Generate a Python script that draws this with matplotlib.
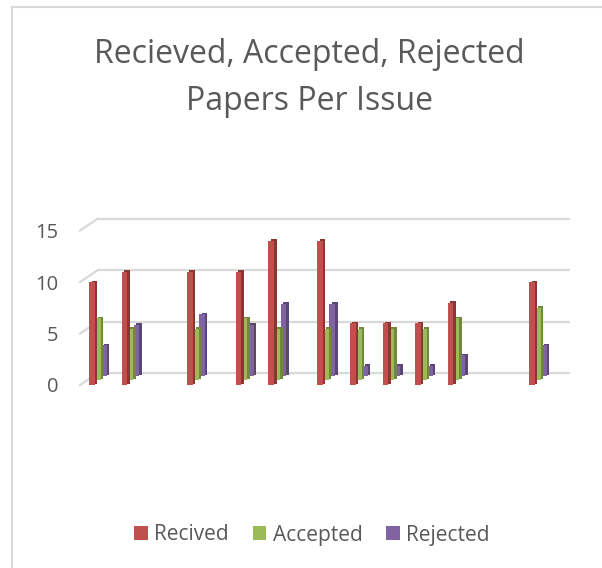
import matplotlib
matplotlib.use("Agg")
import matplotlib.pyplot as plt
from matplotlib import transforms
from matplotlib.patches import Patch

# issue slots on the (date-like) category axis, and counts per issue
issue_slot = [0, 2, 6, 9, 11, 14, 16, 18, 20, 22, 27]
received = [10, 11, 11, 11, 14, 14, 6, 6, 6, 8, 10]
accepted = [6, 5, 5, 6, 5, 5, 5, 5, 5, 6, 7]
rejected = [3, 5, 6, 5, 7, 7, 1, 1, 1, 2, 3]

series_names = ["Recived", "Accepted", "Rejected"]
title_lines = ["Recieved, Accepted, Rejected", "Papers Per Issue"]
y_ticks = [0, 5, 10, 15]

FRONT = ["#C0504D", "#9BBB59", "#8064A2"]
SIDE = ["#8A3734", "#6F8A3C", "#5B4678"]
GRID = "#D9D9D9"
TEXT = "#595959"

plt.rcParams["font.family"] = ["Open Sans", "DejaVu Sans"]

W, H = 602, 568
fig = plt.figure(figsize=(W / 100, H / 100), dpi=100)


def px_box(left, top, right, bottom):
    return [left / W, 1 - bottom / H, (right - left) / W, (bottom - top) / H]


# axis geometry: 16.3 px per slot, 10.3 px per unit, y=0 at 385 px
unit_x, unit_y = 16.3, 10.3
x0, x1 = -1.5, 28.5
y0, y1 = -1, 17
ax = fig.add_axes(px_box(98 + x0 * unit_x, 385 - y1 * unit_y,
                         98 + x1 * unit_x, 385 - y0 * unit_y))
ax.set_xlim(x0, x1)
ax.set_ylim(y0, y1)
for s in ax.spines.values():
    s.set_visible(False)
ax.set_xticks([])
ax.set_yticks(y_ticks)
ax.tick_params(axis="y", length=0, pad=11, labelsize=14.5, labelcolor=TEXT)
ax.patch.set_alpha(0)

# back wall gridlines + floor depth lines
depth_x, depth_y = 18, 12
back = transforms.offset_copy(ax.transData, fig=fig, x=depth_x, y=depth_y, units="dots")
floor_left, floor_right = -1.1, 27.85
ident = transforms.IdentityTransform()
for v in y_ticks:
    ax.plot([floor_left, floor_right], [v, v], color=GRID, lw=1.6,
            transform=back, zorder=0, clip_on=False, solid_capstyle="butt")
    px, py = ax.transData.transform((floor_left, v))
    ax.plot([px, px + depth_x], [py, py + depth_y], color=GRID, lw=1.6,
            transform=ident, zorder=0, clip_on=False)

# 3D-ish columns: back series first, each with a darker side
values = [received, accepted, rejected]
offsets = [-0.37, 0.0, 0.37]
base_lift = [0, 5, 9]
width = 0.34
for i in [2, 1, 0]:
    xs = [s + offsets[i] for s in issue_slot]
    lift = transforms.offset_copy(ax.transData, fig=fig, x=0, y=base_lift[i], units="dots")
    side = transforms.offset_copy(ax.transData, fig=fig, x=2.5, y=base_lift[i] + 1.5, units="dots")
    z = 3 + (2 - i) * 2
    sb = ax.bar(xs, values[i], width=width, color=SIDE[i], zorder=z, clip_on=False)
    for p in sb:
        p.set_transform(side)
    fb = ax.bar(xs, values[i], width=width, color=FRONT[i], zorder=z + 1, clip_on=False)
    for p in fb:
        p.set_transform(lift)

# title, two lines at the reference baselines
for line, base in zip(title_lines, [63, 110]):
    fig.text(309 / W, 1 - base / H, line, ha="center", va="baseline",
             fontsize=23, color=TEXT)

# legend
handles = [Patch(facecolor=FRONT[i], edgecolor="none") for i in range(3)]
fig.legend(handles, series_names, loc="center", bbox_to_anchor=(312 / W, 1 - 535 / H),
           ncol=3, frameon=False, fontsize=15, labelcolor=TEXT,
           handlelength=0.65, handleheight=0.65, handletextpad=0.3, columnspacing=1.15)

# chart-area border (top and left edges visible)
fig.add_artist(plt.Line2D([12 / W, 12 / W], [0, 1 - 7 / H], color=GRID, lw=1.5,
                          transform=fig.transFigure))
fig.add_artist(plt.Line2D([12 / W, 1], [1 - 7 / H, 1 - 7 / H], color=GRID, lw=1.5,
                          transform=fig.transFigure))

fig.savefig("out.png", dpi=100, facecolor="white")
